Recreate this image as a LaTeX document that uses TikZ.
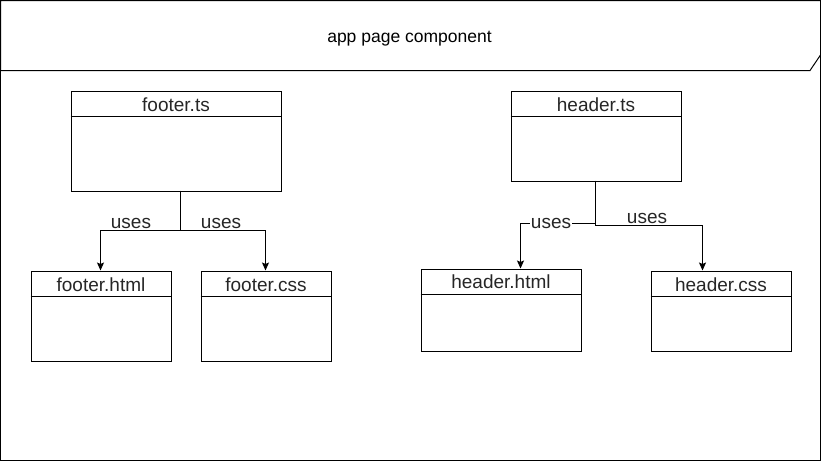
\documentclass[tikz,border=0pt]{standalone}
\usepackage{fontspec}
\setmainfont{Liberation Sans}
\usetikzlibrary{arrows.meta}
\begin{document}
\begin{tikzpicture}[x=1pt,y=-1pt,
  frameline/.style={draw=black, line width=1pt},
  cls/.style={draw=black, line width=1pt, rectangle, inner sep=0pt, anchor=north west},
  ttl/.style={text=black!85, font=\fontsize{19}{22}\selectfont, inner sep=0pt},
  lbl/.style={text=black!85, font=\fontsize{19}{22}\selectfont, fill=white, inner sep=1pt},
  arr/.style={draw=black, line width=1pt, -{Stealth[length=8pt,width=7pt,inset=1.5pt]}}
]
\useasboundingbox (0,0) rectangle (821,461);
% outer frame
\draw[frameline] (0.5,0.5) -- (820.5,0.5) -- (820.5,55) -- (810,70.5) -- (0.5,70.5) -- cycle;
\draw[frameline] (0.5,70.5) -- (0.5,460.5) -- (820.5,460.5) -- (820.5,55);
\node[text=black, font=\fontsize{17.5}{21}\selectfont, inner sep=0pt] (frametitle) at (409.5,39) {app page component};

% classes
\node[cls, minimum width=210pt, minimum height=100pt] (fts) at (70.5,90.5) {};
\draw[line width=1pt] ([yshift=-26pt]fts.north west) -- ([yshift=-26pt]fts.north east);
\node[ttl] (ftsT) at ([yshift=-14pt]fts.north) {footer.ts};

\node[cls, minimum width=170pt, minimum height=90pt] (hts) at (510.5,90.5) {};
\draw[line width=1pt] ([yshift=-26pt]hts.north west) -- ([yshift=-26pt]hts.north east);
\node[ttl] (htsT) at ([yshift=-14pt]hts.north) {header.ts};

\node[cls, minimum width=140pt, minimum height=90pt] (fhtml) at (30.5,270.5) {};
\draw[line width=1pt] ([yshift=-26pt]fhtml.north west) -- ([yshift=-26pt]fhtml.north east);
\node[ttl] (fhtmlT) at ([yshift=-14pt]fhtml.north) {footer.html};

\node[cls, minimum width=130pt, minimum height=90pt] (fcss) at (200.5,270.5) {};
\draw[line width=1pt] ([yshift=-26pt]fcss.north west) -- ([yshift=-26pt]fcss.north east);
\node[ttl] (fcssT) at ([yshift=-14pt]fcss.north) {footer.css};

\node[cls, minimum width=160pt, minimum height=82pt] (hhtml) at (420.5,268.5) {};
\draw[line width=1pt] ([yshift=-26pt]hhtml.north west) -- ([yshift=-26pt]hhtml.north east);
\node[ttl] (hhtmlT) at ([yshift=-13pt]hhtml.north) {header.html};

\node[cls, minimum width=140pt, minimum height=80pt] (hcss) at (650.5,270.5) {};
\draw[line width=1pt] ([yshift=-26pt]hcss.north west) -- ([yshift=-26pt]hcss.north east);
\node[ttl] (hcssT) at ([yshift=-14pt]hcss.north) {header.css};

% connector points
\coordinate (fstem) at (180.5,190.5);
\coordinate (fjoin) at (180.5,230.5);
\coordinate (hstem) at (595.5,180.5);
\coordinate (hjoinL) at (595.5,223.5);
\coordinate (hjoinR) at (595.5,225.5);

% footer connectors
\draw[arr] (fstem) -- (fjoin) -- (100.5,230.5) -- (100.5,270.5);
\draw[arr] (fjoin) -- (265.5,230.5) -- (265.5,270.5);
\node[lbl] (u1) at (131,223.5) {uses};
\node[lbl] (u2) at (221,223.5) {uses};

% header connectors
\draw[arr] (hstem) -- (hjoinL) -- (520.5,223.5) -- (520.5,268.5);
\draw[arr] (hjoinL) -- (hjoinR) -- (702.5,225.5) -- (702.5,270.5);
\node[lbl] (u3) at (551,223.5) {uses};
\node[lbl] (u4) at (647,218.5) {uses};
\end{tikzpicture}
\end{document}
